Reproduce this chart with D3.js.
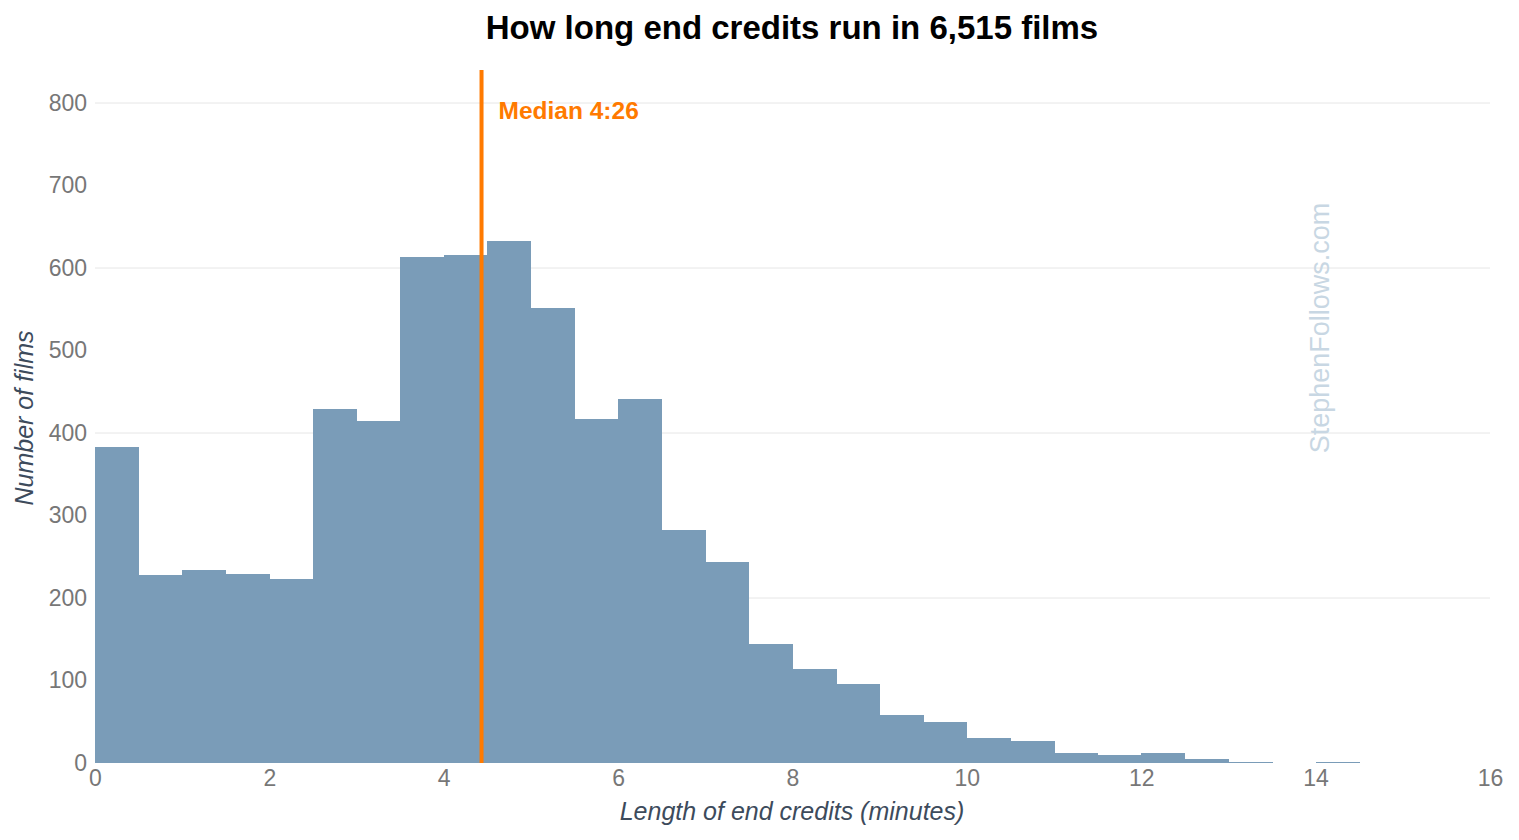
<!DOCTYPE html>
<html>
<head>
<meta charset="utf-8">
<script src="https://cdn.jsdelivr.net/npm/d3@7"></script>
<style>
  body { margin: 0; background: #fff; }
  .tick text { font-family: "Liberation Sans", Arial, sans-serif; }
</style>
</head>
<body>
<div id="chart"></div>
<script>
var margin = {top: 70, right: 29, bottom: 77, left: 95},
    width = 1519 - margin.left - margin.right,
    height = 840 - margin.top - margin.bottom;

// histogram bins (start of each half-minute bin) and counts
const binStarts = [0, 0.5, 1, 1.5, 2, 2.5, 3, 3.5, 4, 4.5, 5, 5.5, 6, 6.5, 7, 7.5,
                   8, 8.5, 9, 9.5, 10, 10.5, 11, 11.5, 12, 12.5, 13, 13.5, 14, 14.5]
const filmCounts = [383, 228, 234, 229, 223, 429, 414, 613, 616, 633, 552, 417, 441, 283, 244, 144,
                    114, 96, 58, 50, 30, 27, 12, 10, 12, 5, 1, 0, 1, 0]
const binWidth = 0.5
const xTicks = [0, 2, 4, 6, 8, 10, 12, 14, 16]
const yTicks = [0, 100, 200, 300, 400, 500, 600, 700, 800]
const gridTicks = [200, 400, 600, 800]
const medianMinutes = 4 + 26 / 60
const medianLabel = "Median 4:26"

const bins = binStarts.map((s, i) => ({x0: s, x1: s + binWidth, count: filmCounts[i]}))

const svg = d3.select("#chart")
    .append("svg")
        .attr("width", 1519)
        .attr("height", 840)

const canvas = svg.append("g")
        .attr("transform", "translate(" + margin.left + "," + margin.top + ")")

var xScale = d3.scaleLinear()
        .domain([0, 16])
        .range([0, width])

var yScale = d3.scaleLinear()
        .domain([0, 800])
        .range([height, 33])

// gridlines
canvas.append("g")
    .selectAll("line")
    .data(gridTicks)
    .enter()
    .append("line")
        .attr("x1", 0)
        .attr("x2", width)
        .attr("y1", d => yScale(d))
        .attr("y2", d => yScale(d))
        .attr("stroke", "#e6e6e6")
        .attr("stroke-width", 1)

// bars
canvas.selectAll("rect.bar")
    .data(bins)
    .enter()
    .append("rect")
        .attr("class", "bar")
        .attr("x", d => xScale(d.x0))
        .attr("width", d => xScale(d.x1) - xScale(d.x0) + 0.5)
        .attr("y", d => yScale(d.count))
        .attr("height", d => yScale(0) - yScale(d.count))
        .attr("fill", "#7a9cb8")
        .attr("shape-rendering", "crispEdges")

// axes
const xAxis = canvas.append("g")
    .attr("transform", "translate(0," + height + ")")
    .call(d3.axisBottom(xScale).tickValues(xTicks).tickSize(0).tickPadding(7))
xAxis.select(".domain").remove()
xAxis.selectAll("text").attr("font-size", 23).attr("fill", "#777")

const yAxis = canvas.append("g")
    .call(d3.axisLeft(yScale).tickValues(yTicks).tickSize(0).tickPadding(8))
yAxis.select(".domain").remove()
yAxis.selectAll("text").attr("font-size", 23).attr("fill", "#777")

// median line
canvas.append("line")
    .attr("x1", xScale(medianMinutes))
    .attr("x2", xScale(medianMinutes))
    .attr("y1", 0)
    .attr("y2", height)
    .attr("stroke", "#ff7a00")
    .attr("stroke-width", 4)

canvas.append("text")
    .attr("x", xScale(medianMinutes) + 17)
    .attr("y", 49)
    .attr("font-family", "'Liberation Sans', Arial, sans-serif")
    .attr("font-weight", "bold")
    .attr("font-size", 24.5)
    .attr("fill", "#ff7a00")
    .text(medianLabel)

// watermark
svg.append("text")
    .attr("transform", "translate(1329,328) rotate(-90)")
    .attr("text-anchor", "middle")
    .attr("font-family", "'Liberation Sans', Arial, sans-serif")
    .attr("font-size", 27)
    .attr("fill", "#c8d7e3")
    .text("StephenFollows.com")

// title
svg.append("text")
    .attr("x", 792)
    .attr("y", 39)
    .attr("text-anchor", "middle")
    .attr("font-family", "'Liberation Sans', Arial, sans-serif")
    .attr("font-weight", "bold")
    .attr("font-size", 33)
    .attr("fill", "#000")
    .text("How long end credits run in 6,515 films")

// axis labels
svg.append("text")
    .attr("x", 792)
    .attr("y", 820)
    .attr("text-anchor", "middle")
    .attr("font-family", "'Liberation Sans', Arial, sans-serif")
    .attr("font-style", "italic")
    .attr("font-size", 25)
    .attr("fill", "#3d4b5c")
    .text("Length of end credits (minutes)")

svg.append("text")
    .attr("transform", "translate(33,418) rotate(-90)")
    .attr("text-anchor", "middle")
    .attr("font-family", "'Liberation Sans', Arial, sans-serif")
    .attr("font-style", "italic")
    .attr("font-size", 25)
    .attr("fill", "#3d4b5c")
    .text("Number of films")
</script>
</body>
</html>
